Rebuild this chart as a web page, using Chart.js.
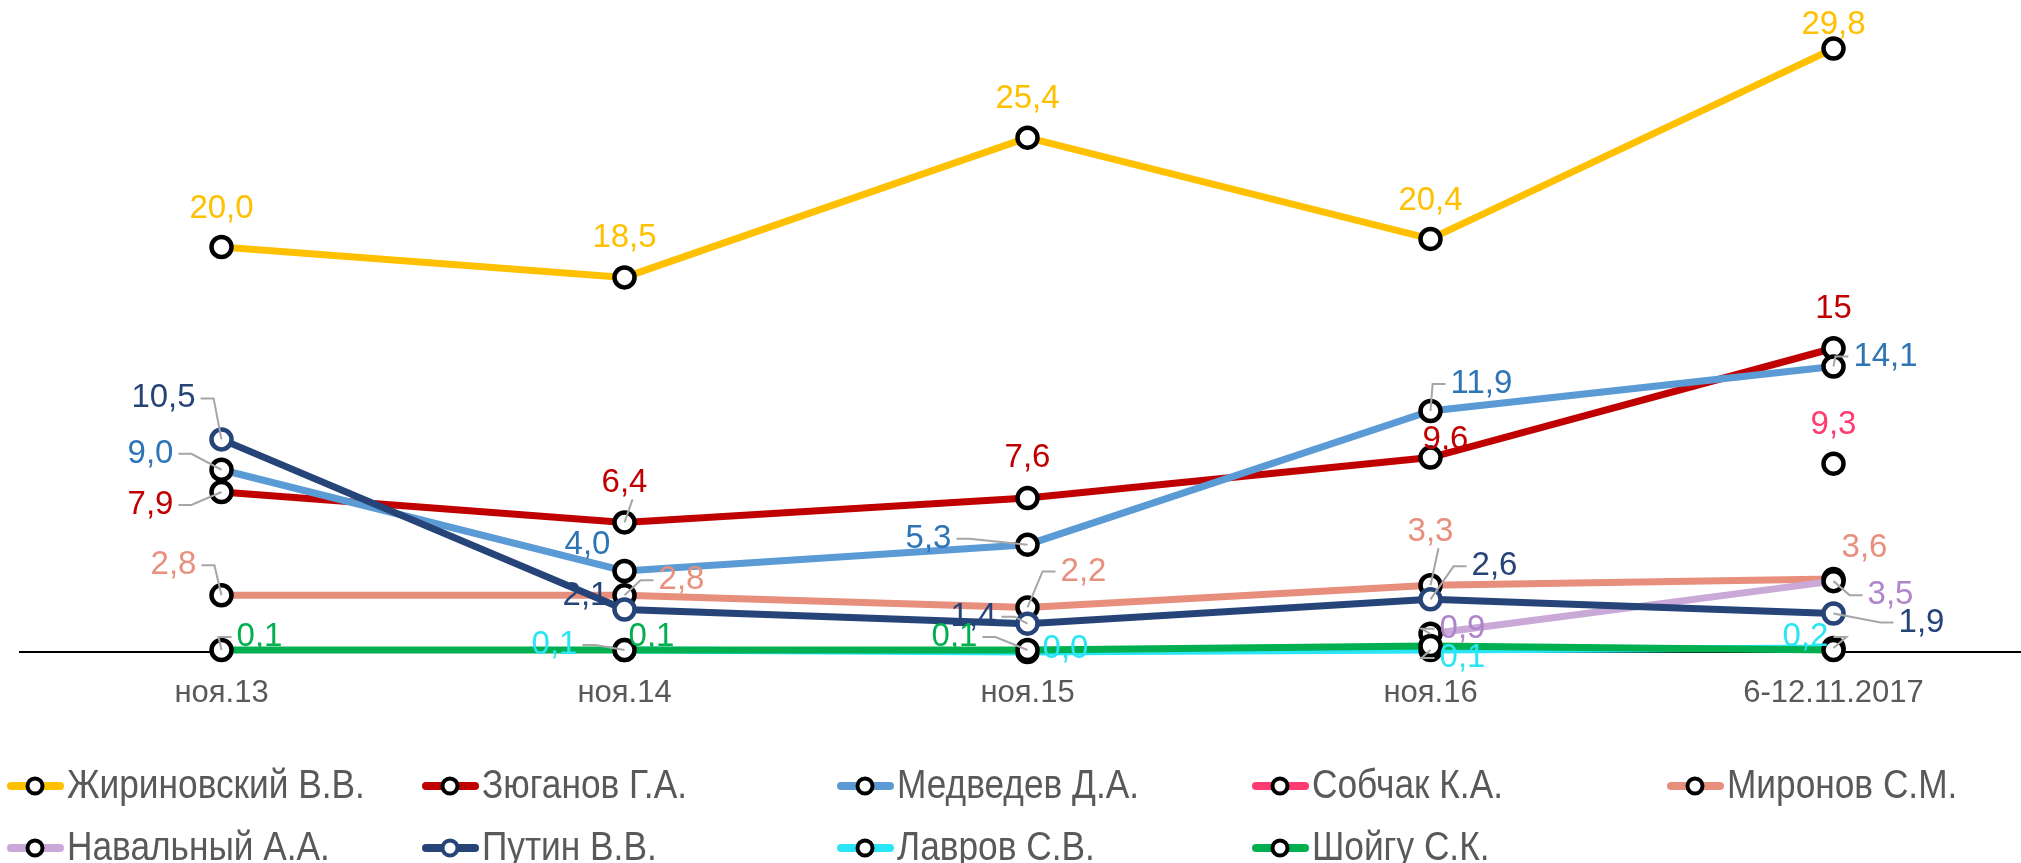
<!DOCTYPE html>
<html>
<head>
<meta charset="utf-8">
<script src="https://cdn.jsdelivr.net/npm/chart.js@4"></script>
<style>
  html, body { margin: 0; padding: 0; background: #fff; overflow: hidden; }
  #container { position: relative; width: 2021px; height: 863px; }
</style>
</head>
<body>
<div id="container">
  <canvas id="myChart"></canvas>
</div>
<script>
const categories = ['ноя.13', 'ноя.14', 'ноя.15', 'ноя.16', '6-12.11.2017'];
const names = ['Жириновский В.В.', 'Зюганов Г.А.', 'Медведев Д.А.', 'Собчак К.А.', 'Миронов С.М.',
               'Навальный А.А.', 'Путин В.В.', 'Лавров С.В.', 'Шойгу С.К.'];

const zhirinovsky = [20.0, 18.5, 25.4, 20.4, 29.8];
const zyuganov    = [7.9, 6.4, 7.6, 9.6, 15];
const medvedev    = [9.0, 4.0, 5.3, 11.9, 14.1];
const sobchak     = [null, null, null, null, 9.3];
const mironov     = [2.8, 2.8, 2.2, 3.3, 3.6];
const navalny     = [null, null, null, 0.9, 3.5];
const putin       = [10.5, 2.1, 1.4, 2.6, 1.9];
const lavrov      = [null, 0.1, 0.0, 0.1, 0.2];
const shoigu      = [0.1, 0.1, 0.1, 0.3, 0.1];

const series = [zhirinovsky, zyuganov, medvedev, sobchak, mironov, navalny, putin, lavrov, shoigu];

// styles
const lineColors  = ['#FFC000', '#C00000', '#5B9BD5', '#FF3B6F', '#E88E7D', '#CAA9D9', '#264478', '#29E5F5', '#00B050'];
const labelColors = ['#FFC000', '#C00000', '#2E75B6', '#FF3B6F', '#E8907E', '#B084C8', '#264478', '#29E5F5', '#00B050'];
const markerBorders = lineColors.map((c, i) => i === 6 ? '#264478' : '#000000');

// label offsets from the point [dx, dy, leader]
const labelPos = [
  [[0,-38],[0,-39],[0,-39],[0,-38],[0,-24]],
  [[-71,13,1],[0,-39,1],[0,-40],[15,-18],[0,-39]],
  [[-71,-16,1],[-37,-26],[-99,-6,1],[51,-27,1],[52,-10,1]],
  [null,null,null,null,[0,-39]],
  [[-48,-30,1],[57,-15,1],[56,-36,1],[0,-53,1],[31,-31]],
  [null,null,null,[32,-5,1],[57,14,1]],
  [[-58,-41,1],[-39,-14],[-54,-7,1],[64,-33,1],[88,9,1]],
  [null,[-70,-5,1],[38,-3],[32,8,1],[-28,-11,1]],
  [[38,-13,1],[27,-13],[-73,-13,1],null,null]
];

const fmt = (v, i, j) => (i === 1 && j === 4) ? String(v) : v.toFixed(1).replace('.', ',');

const labelFont = "33px 'Liberation Sans', Arial, sans-serif";
const legendFont = "41px 'Liberation Sans', Arial, sans-serif";

// the category axis of the original runs a bit past the right edge of the picture
const widenX = {
  id: 'widenX',
  afterLayout(chart) {
    const x = chart.scales.x;
    x.right = x.left + 2015;
    x.width = 2015;
    x.configure();
  }
};

const valueLabels = {
  id: 'valueLabels',
  afterDatasetsDraw(chart) {
    const ctx = chart.ctx;
    ctx.save();
    ctx.font = labelFont;
    ctx.textAlign = 'center';
    ctx.textBaseline = 'middle';
    chart.data.datasets.forEach((ds, i) => {
      const meta = chart.getDatasetMeta(i);
      ds.data.forEach((v, j) => {
        const p = labelPos[i][j];
        if (v === null || !p) return;
        const pt = meta.data[j];
        const lx = pt.x + p[0], ly = pt.y + p[1];
        const text = fmt(v, i, j);
        const w = ctx.measureText(text).width;
        if (p[2]) {
          ctx.strokeStyle = '#A6A6A6';
          ctx.lineWidth = 2;
          ctx.beginPath();
          if (p[0] < -20) {
            ctx.moveTo(lx + w / 2 + 5, ly);
            ctx.lineTo(lx + w / 2 + 18, ly);
          } else if (p[0] > 20) {
            ctx.moveTo(lx - w / 2 - 5, ly);
            ctx.lineTo(lx - w / 2 - 18, ly);
          } else {
            ctx.moveTo(lx + 8, ly + 16);
          }
          ctx.lineTo(pt.x, pt.y);
          ctx.stroke();
        }
        ctx.fillStyle = labelColors[i];
        ctx.fillText(text, lx, ly);
      });
    });
    ctx.restore();
  }
};

const legendDraw = {
  id: 'legendDraw',
  afterDraw(chart) {
    const ctx = chart.ctx;
    chart.data.datasets.forEach((ds, i) => {
      const x0 = 7 + (i % 5) * 415;
      const y = 786 + Math.floor(i / 5) * 62;
      ctx.save();
      ctx.strokeStyle = lineColors[i];
      ctx.lineWidth = 8;
      ctx.lineCap = 'round';
      ctx.beginPath();
      ctx.moveTo(x0 + 4, y);
      ctx.lineTo(x0 + 53, y);
      ctx.stroke();
      ctx.fillStyle = '#fff';
      ctx.strokeStyle = markerBorders[i];
      ctx.lineWidth = 4;
      ctx.beginPath();
      ctx.arc(x0 + 28, y, 7.5, 0, Math.PI * 2);
      ctx.fill();
      ctx.stroke();
      ctx.fillStyle = '#595959';
      ctx.font = legendFont;
      ctx.textAlign = 'left';
      ctx.textBaseline = 'middle';
      ctx.translate(x0 + 60, y + 1);
      ctx.scale(0.86, 1);
      ctx.fillText(ds.label, 0, 0);
      ctx.restore();
    });
  }
};

const myChart = document.getElementById('myChart').getContext('2d');
new Chart(myChart, {
  type: 'line',
  data: {
    labels: categories,
    datasets: series.map((d, i) => ({
      label: names[i],
      data: d,
      borderColor: lineColors[i],
      borderWidth: 7,
      pointRadius: 10,
      pointBorderWidth: 4.5,
      pointBackgroundColor: '#ffffff',
      pointBorderColor: markerBorders[i],
      fill: false,
      tension: 0,
      clip: false,
      order: series.length - i
    }))
  },
  options: {
    responsive: true,
    maintainAspectRatio: false,
    animation: false,
    devicePixelRatio: 1,
    layout: { autoPadding: false, padding: { left: 20, top: 4, right: 0, bottom: 0 } },
    plugins: {
      legend: { display: false },
      tooltip: { enabled: false }
    },
    scales: {
      x: {
        offset: true,
        grid: { display: false, drawTicks: false },
        border: { display: true, color: '#000000', width: 2 },
        ticks: {
          color: '#595959',
          font: { family: "'Liberation Sans', Arial, sans-serif", size: 31 },
          padding: 23,
          maxRotation: 0
        },
        afterFit(scale) { scale.height = 211; }
      },
      y: {
        display: false,
        min: 0,
        max: 32
      }
    }
  },
  plugins: [widenX, valueLabels, legendDraw]
});
</script>
</body>
</html>
